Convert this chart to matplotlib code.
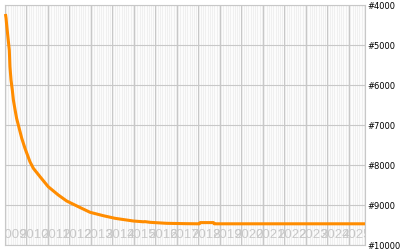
import numpy as np
import matplotlib
matplotlib.use("Agg")
import matplotlib.pyplot as plt

# rank history, time in fractional years
years = [2009.02, 2009.05, 2009.07, 2009.11, 2009.15, 2009.20, 2009.23, 2009.28,
         2009.34, 2009.39, 2009.47, 2009.54, 2009.62, 2009.78, 2009.93, 2010.16,
         2010.32, 2010.63, 2011.01, 2011.48, 2011.87, 2012.41, 2012.96, 2013.57,
         2014.12, 2014.97, 2015.45, 2015.50, 2015.75, 2016.52, 2017.45, 2018.04,
         2018.08, 2018.70, 2018.74, 2025.75]
ranks = [4225, 4333, 4458, 4667, 4875, 5125, 5542, 5875,
         6125, 6375, 6625, 6833, 7000, 7333, 7583, 7917,
         8083, 8292, 8542, 8750, 8900, 9042, 9183, 9267,
         9333, 9400, 9420, 9415, 9433, 9458, 9467, 9470,
         9440, 9440, 9470, 9470]

year_labels = list(range(2009, 2026))
rank_ticks = [4000, 5000, 6000, 7000, 8000, 9000, 10000]

fig = plt.figure(figsize=(4, 2.5), dpi=100)
ax = fig.add_axes([5 / 400, 5 / 250, 360 / 400, 240 / 250])
ax.set_facecolor("#f0f0f0")

ax.set_xlim(2009.0, 2025.75)
ax.set_ylim(10000, 4000)

# month lines (white) and year lines (gray)
months = np.arange(2009.0, 2025.75, 1 / 12)
ax.set_xticks(months, minor=True)
ax.set_xticks(year_labels[1:])
ax.grid(True, which="minor", axis="x", color="white", lw=0.6, zorder=0)
ax.grid(True, which="major", axis="both", color="#c8c8c8", lw=0.8, zorder=1)
ax.set_axisbelow(True)
ax.tick_params(axis="x", which="both", length=0, labelbottom=False)

ax.yaxis.tick_right()
ax.set_yticks(rank_ticks)
ax.set_yticklabels(["#%d" % r for r in rank_ticks], fontsize=6)
ax.tick_params(axis="y", length=0, pad=1.5)

for s in ax.spines.values():
    s.set_color("#c8c8c8")
    s.set_linewidth(0.8)

for y in year_labels:
    ax.text(y + 0.35, 9760, str(y), ha="center", va="center", fontsize=9.5,
            family="Liberation Sans", color="#c8c8c8", zorder=2, clip_on=True)

ax.plot(years, ranks, color="#ff8c00", lw=2.2, zorder=3, clip_on=False,
        solid_capstyle="butt")

fig.savefig("out.png", dpi=100)
